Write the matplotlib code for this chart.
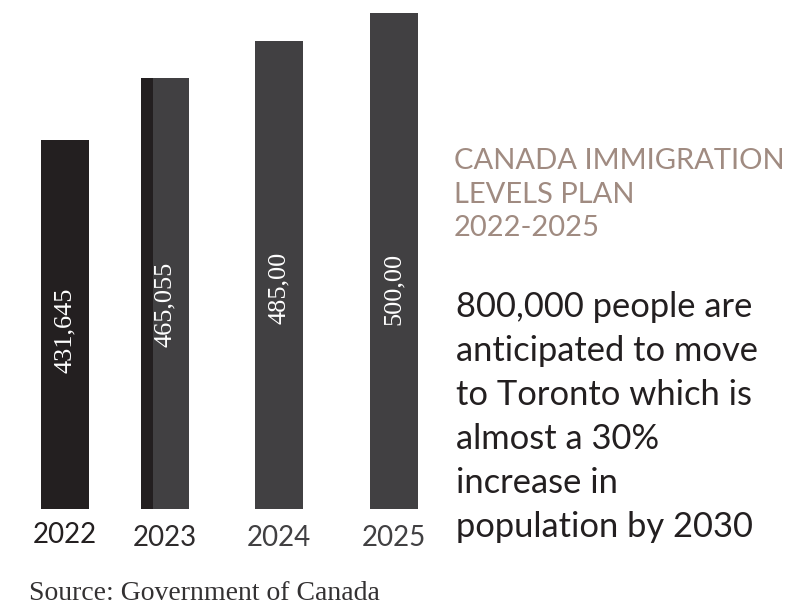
import matplotlib
matplotlib.use("Agg")
import matplotlib.pyplot as plt

# ---- data ----
years = ["2022", "2023", "2024", "2025"]
values = [431645, 465055, 485000, 500000]
value_labels = ["431,645", "465,055", "485,00", "500,00"]
title_lines = ["CANADA IMMIGRATION", "LEVELS PLAN", "2022-2025"]
body_lines = ["800,000 people are", "anticipated to move", "to Toronto which is",
              "almost a 30%", "increase in", "population by 2030"]
source_text = "Source: Government of Canada"

# ---- layout / style ----
W, H = 791, 605
fig = plt.figure(figsize=(W / 100, H / 100), dpi=100)
fig.patch.set_facecolor("white")

def fx(x):
    return x / W

def fy(y):
    return 1 - y / H

ax_left, ax_right, ax_top, ax_bot = 0, 450, 13, 509
ax = fig.add_axes([fx(ax_left), fy(ax_bot), (ax_right - ax_left) / W, (ax_bot - ax_top) / H])
ax.set_axis_off()

positions = [0.0, 1.0, 2.14, 3.29]
bar_w = 0.48
colors = ["#231f20", "#414042", "#414042", "#414042"]
ax.bar(positions, values, width=bar_w, color=colors, bottom=0)
# dark strip on the left side of the 2023 bar
ax.bar(positions[1] - bar_w / 2, values[1], width=0.12, align="edge", color="#231f20")
ax.set_xlim(-0.65, 3.85)
ax.set_ylim(233050, 500000)

# value labels inside bars (vertical)
label_y_px = [330, 304, 288, 289]
for p, lab, ypx in zip(positions, value_labels, label_y_px):
    ax.text(p, (ax_bot - ypx) / (ax_bot - ax_top), lab,
            transform=ax.get_xaxis_transform(), rotation=90,
            ha="center", va="center", color="white",
            family="Liberation Serif", fontsize=19)

# year labels under bars
year_colors = ["#231f20", "#2e2b2c", "#414042", "#414042"]
year_y = [535, 538, 538, 538]
for p, yr, c, yy in zip(positions, years, year_colors, year_y):
    xd = ax.transData.transform((p, 0))[0]
    fig.text(xd / W, fy(yy), yr, ha="center", va="center",
             family="Lato", fontsize=20, color=c)

# title block
for i, line in enumerate(title_lines):
    fig.text(fx(454), fy(161 + i * 33.5), line, ha="left", va="center",
             family="Lato", fontsize=21, color="#a08b81")

# body text
for i, line in enumerate(body_lines):
    fig.text(fx(456), fy(307 + i * 44), line, ha="left", va="center",
             family="Lato", fontsize=24.8, color="#231f20")

fig.text(fx(29), fy(594), source_text, ha="left", va="center",
         family="Liberation Serif", fontsize=20, color="#333132")

fig.savefig("out.png", dpi=100, facecolor="white")
